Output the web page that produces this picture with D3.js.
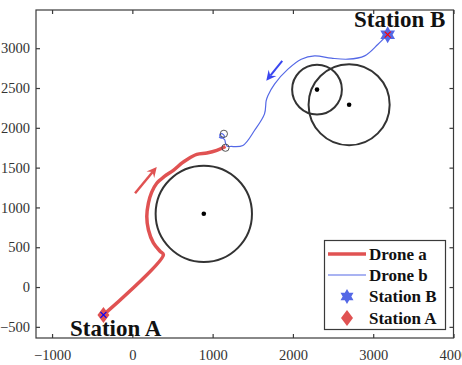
<!DOCTYPE html>
<html>
<head>
<meta charset="utf-8">
<script src="https://cdn.jsdelivr.net/npm/d3@7"></script>
<style>
    body { margin: 0; background: #fff; }
    svg text { font-family: "Liberation Serif", "Times New Roman", serif; }
</style>
</head>
<body>
<div id="chart"></div>
<script>
//          Chart data
var xTicks = [-1000, 0, 1000, 2000, 3000, 4000];
var yTicks = [-500, 0, 500, 1000, 1500, 2000, 2500, 3000];

var droneA = [[-360, -350], [387, 407], [345, 450], [262, 554], [200, 720], [180, 887], [200, 1054],
    [240, 1190], [304, 1304], [400, 1390], [511, 1466], [620, 1560], [678, 1600], [803, 1666],
    [928, 1683], [1052, 1716], [1160, 1765]];
var droneB = [[3180, 3170], [3060, 3050], [2893, 2904], [2686, 2862], [2478, 2875], [2270, 2904],
    [2104, 2862], [1938, 2737], [1771, 2550], [1688, 2404], [1667, 2341], [1646, 2175], [1521, 1966],
    [1377, 1779], [1231, 1766], [1180, 1770], [1160, 1810], [1150, 1850], [1120, 1875], [1090, 1895],
    [1100, 1925], [1135, 1915], [1145, 1885], [1110, 1870], [1080, 1885]];

var obstacleX = [890, 2300, 2700];
var obstacleY = [920, 2480, 2290];
var obstacleR = [600, 310, 505];

var waypointX = [1140, 1160];
var waypointY = [1925, 1750];
var waypointR = [45, 45];

var stationA = [-360, -350];
var stationB = [3180, 3170];

var arrowA = [[34, 1179], [304, 1508]];
var arrowB = [[1867, 2841], [1668, 2591]];

var legendNames = ["Drone a", "Drone b", "Station B", "Station A"];

//          Chart settings
var w = 462, h = 365;
var redColor = "#e05252";
var blueColor = "#5468e6";
var axisColor = "#3a3a3a";

var svg = d3.select("#chart").append("svg")
    .attr("width", w)
    .attr("height", h);

var x = d3.scaleLinear().domain([-1200, 4000]).range([36, 453.5]);
var y = d3.scaleLinear().domain([-640, 3480]).range([338, 10]);
var pxPerUnit = (x(1000) - x(0)) / 1000;

//          Obstacles
svg.selectAll(".obstacle").data(obstacleX).enter().append("circle")
    .attr("cx", function(d) { return x(d); })
    .attr("cy", function(d, i) { return y(obstacleY[i]); })
    .attr("r", function(d, i) { return obstacleR[i] * pxPerUnit; })
    .style("fill", "none")
    .style("stroke", "#333")
    .style("stroke-width", 2);

svg.selectAll(".centre").data(obstacleX).enter().append("circle")
    .attr("cx", function(d) { return x(d); })
    .attr("cy", function(d, i) { return y(obstacleY[i]); })
    .attr("r", 2.3)
    .style("fill", "#000");

//          Paths
var line = d3.line()
    .x(function(d) { return x(d[0]); })
    .y(function(d) { return y(d[1]); })
    .curve(d3.curveCatmullRom);

svg.append("path").datum(droneB)
    .attr("d", line)
    .style("fill", "none")
    .style("stroke", blueColor)
    .style("stroke-width", 1.2);

svg.append("path").datum(droneA)
    .attr("d", line)
    .style("fill", "none")
    .style("stroke", redColor)
    .style("stroke-width", 3.5)
    .style("stroke-linejoin", "round");

svg.selectAll(".waypoint").data(waypointX).enter().append("circle")
    .attr("cx", function(d) { return x(d); })
    .attr("cy", function(d, i) { return y(waypointY[i]); })
    .attr("r", function(d, i) { return waypointR[i] * pxPerUnit; })
    .style("fill", "none")
    .style("stroke", "#444")
    .style("stroke-width", 0.9);

//          Arrows
function drawArrow(a, color, width) {
    var x1 = x(a[0][0]), y1 = y(a[0][1]), x2 = x(a[1][0]), y2 = y(a[1][1]);
    var ang = Math.atan2(y2 - y1, x2 - x1);
    var len = 10, half = 5, back = 6.5;
    svg.append("line")
        .attr("x1", x1).attr("y1", y1)
        .attr("x2", x2 - Math.cos(ang) * back).attr("y2", y2 - Math.sin(ang) * back)
        .style("stroke", color)
        .style("stroke-width", width);
    var bx = x2 - Math.cos(ang) * len, by = y2 - Math.sin(ang) * len;
    var nx = -Math.sin(ang), ny = Math.cos(ang);
    var pts = [[x2, y2], [bx + nx * half, by + ny * half],
        [x2 - Math.cos(ang) * back, y2 - Math.sin(ang) * back], [bx - nx * half, by - ny * half]];
    svg.append("polygon")
        .attr("points", pts.map(function(p) { return p.join(","); }).join(" "))
        .style("fill", color);
}
drawArrow(arrowA, redColor, 2.5);
drawArrow(arrowB, "#3a46f0", 2);

//          Markers
function hexagram(R) {
    var pts = [];
    for (var k = 0; k < 12; k++) {
        var a = (k * 30 - 90) * Math.PI / 180;
        var r = (k % 2 === 0) ? R : R / Math.sqrt(3);
        pts.push([r * Math.cos(a), r * Math.sin(a)]);
    }
    return "M" + pts.map(function(p) { return p.join(","); }).join("L") + "Z";
}
function diamond(sx, sy) {
    return "M0," + (-sy) + "L" + sx + ",0L0," + sy + "L" + (-sx) + ",0Z";
}
function cross(g, cx, cy, s, color) {
    g.append("path")
        .attr("d", "M" + (cx - s) + "," + (cy - s) + "L" + (cx + s) + "," + (cy + s) +
            "M" + (cx - s) + "," + (cy + s) + "L" + (cx + s) + "," + (cy - s))
        .style("stroke", color)
        .style("stroke-width", 1.2);
}

svg.append("path")
    .attr("d", hexagram(8.5))
    .attr("transform", "translate(" + x(stationB[0]) + "," + y(stationB[1]) + ")")
    .style("fill", blueColor);
cross(svg, x(stationB[0]), y(stationB[1]), 3, "#f00");

svg.append("path")
    .attr("d", diamond(6, 8))
    .attr("transform", "translate(" + x(stationA[0]) + "," + y(stationA[1]) + ")")
    .style("fill", redColor);
cross(svg, x(stationA[0]), y(stationA[1]), 3, "#00f");

//          Axes box and ticks
svg.append("rect")
    .attr("x", x.range()[0]).attr("y", y.range()[1])
    .attr("width", x.range()[1] - x.range()[0])
    .attr("height", y.range()[0] - y.range()[1])
    .style("fill", "none")
    .style("stroke", axisColor)
    .style("stroke-width", 1.2);

var fmt = d3.format("d");
var axisBottom = d3.axisBottom(x).tickValues(xTicks).tickSize(-4).tickPadding(12).tickFormat(fmt);
var axisTop = d3.axisTop(x).tickValues(xTicks).tickSize(-4).tickFormat("");
var axisLeft = d3.axisLeft(y).tickValues(yTicks).tickSize(-4).tickPadding(6).tickFormat(fmt);
var axisRight = d3.axisRight(y).tickValues(yTicks).tickSize(-4).tickFormat("");

function styleAxis(g) {
    g.select(".domain").remove();
    g.selectAll("line").style("stroke", axisColor).style("stroke-width", 1.2);
    g.selectAll("text")
        .style("font-family", "Liberation Serif, serif")
        .style("font-size", "14.5px")
        .style("fill", "#333");
}
svg.append("g").attr("transform", "translate(0," + y.range()[0] + ")").call(axisBottom).call(styleAxis);
svg.append("g").attr("transform", "translate(0," + y.range()[1] + ")").call(axisTop).call(styleAxis);
svg.append("g").attr("transform", "translate(" + x.range()[0] + ",0)").call(axisLeft).call(styleAxis);
svg.append("g").attr("transform", "translate(" + x.range()[1] + ",0)").call(axisRight).call(styleAxis);

//          Station labels
svg.append("text")
    .text("Station B")
    .attr("x", 354).attr("y", 27)
    .style("font-size", "23px")
    .style("font-weight", "bold")
    .style("fill", "#111");
svg.append("text")
    .text("Station A")
    .attr("x", 70).attr("y", 336)
    .style("font-size", "23px")
    .style("font-weight", "bold")
    .style("fill", "#111");

//          Legend
var legend = svg.append("g");
legend.append("rect")
    .attr("x", 324.5).attr("y", 240.5)
    .attr("width", 121).attr("height", 89)
    .style("fill", "#fff")
    .style("stroke", axisColor)
    .style("stroke-width", 1.2);

var legendY = [254, 275, 296.5, 318];
legend.append("line")
    .attr("x1", 328).attr("x2", 366).attr("y1", legendY[0]).attr("y2", legendY[0])
    .style("stroke", redColor).style("stroke-width", 3.5);
legend.append("line")
    .attr("x1", 328).attr("x2", 366).attr("y1", legendY[1]).attr("y2", legendY[1])
    .style("stroke", blueColor).style("stroke-width", 1.2);
legend.append("path")
    .attr("d", hexagram(7.5))
    .attr("transform", "translate(347," + legendY[2] + ")")
    .style("fill", blueColor);
legend.append("path")
    .attr("d", diamond(6, 8))
    .attr("transform", "translate(347," + legendY[3] + ")")
    .style("fill", redColor);

legend.selectAll(".label").data(legendNames).enter().append("text")
    .text(function(d) { return d; })
    .attr("x", 369)
    .attr("y", function(d, i) { return legendY[i]; })
    .attr("dy", "0.35em")
    .style("font-size", "17px")
    .style("font-weight", "bold")
    .style("fill", "#111");
</script>
</body>
</html>
